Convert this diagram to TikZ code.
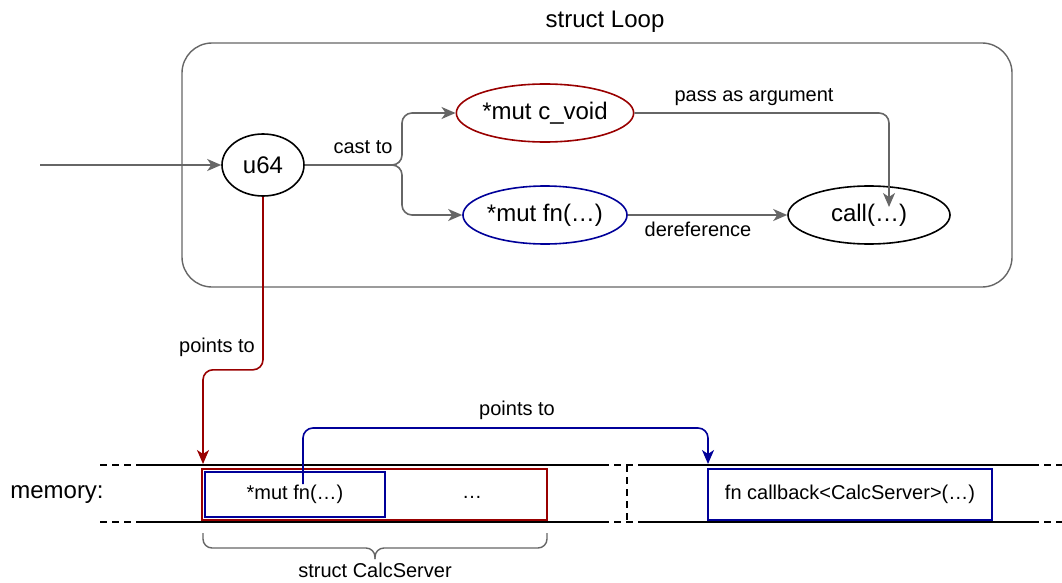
\documentclass[tikz,border=0pt]{standalone}
\usepackage{fontspec}
\setmainfont{Liberation Sans}
\usetikzlibrary{arrows.meta,shapes.geometric}
\definecolor{edgegray}{HTML}{666666}
\definecolor{ptrred}{HTML}{990000}
\definecolor{ptrblue}{HTML}{000099}
\begin{document}
\begin{tikzpicture}[x=1pt,y=-1pt,
  big/.style={font=\fontsize{24}{28}\selectfont},
  small/.style={font=\fontsize{20}{24}\selectfont},
  oval/.style={ellipse, draw, line width=1.6pt, inner sep=0pt, big},
  tip/.style={-{Stealth[length=14pt,width=12pt,inset=4pt]}},
  flow/.style={draw=edgegray, line width=1.6pt, rounded corners=10pt, tip},
  ptrflow/.style={draw=#1, line width=1.6pt, rounded corners=10pt, tip},
  membox/.style={draw=#1, line width=1.6pt, inner sep=0pt, small},
  memline/.style={line width=1.6pt},
  memdash/.style={line width=1.6pt, dash pattern=on 7pt off 5pt},
  lbl/.style={small, inner sep=1pt}
]
\useasboundingbox (0,0) rectangle (1062,583);

% the Loop container
\node[draw=edgegray, line width=1.4pt, rounded corners=30pt,
      minimum width=830pt, minimum height=244pt, inner sep=0pt] (loop) at (597,165) {};
\node[big] (looptitle) at (605,22) {struct Loop};

% values inside the loop
\node[oval, minimum width=82pt, minimum height=62pt] (u64) at (263,165) {u64};
\node[oval, draw=ptrred, minimum width=162pt, minimum height=58pt] (cvoid) at (545,113) {*mut c\_void};
\node[oval, draw=ptrblue, minimum width=162pt, minimum height=58pt] (fnptr) at (545,215) {*mut fn(…)};
\node[oval, minimum width=162pt, minimum height=58pt] (call) at (869,215) {call(…)};

\coordinate (src) at (40,165);
\coordinate (split) at (402,165);
\coordinate (argin) at (889,207);

\draw[flow] (src) -- (u64.west);
\draw[flow] (u64.east) -- (split) |- (cvoid.west);
\draw[flow] (u64.east) -- (split) |- (fnptr.west);
\draw[flow] (cvoid.east) -| (argin);
\draw[flow] (fnptr.east) -- (call.west);

\node[lbl] (castlbl) at (363,147) {cast to};
\node[lbl] (passlbl) at (754,97) {pass as argument};
\node[lbl] (dereflbl) at (698,229) {dereference};

% memory strip
\foreach \y in {465,522} {
  \draw[memdash] (100,\y) -- (140,\y);
  \draw[memline] (140,\y) -- (602,\y);
  \draw[memdash] (602,\y) -- (645,\y);
  \draw[memline] (645,\y) -- (1032,\y);
  \draw[memdash] (1032,\y) -- (1062,\y);
}
\draw[memdash] (627,465) -- (627,522);

\node[big] (memlbl) at (57,495) {memory:};

\node[membox=ptrred, minimum width=345pt, minimum height=51pt] (csbox) at (374.5,494.5) {};
\node[membox=ptrblue, minimum width=180pt, minimum height=45pt] (fnbox) at (295,494.5) {*mut fn(…)};
\node[small] (rest) at (472,497) {…};
\node[membox=ptrblue, minimum width=284pt, minimum height=51pt] (cbbox) at (850,494.5) {fn callback<CalcServer>(…)};

% pointers into memory
\coordinate (redtip) at (203,464);
\coordinate (fnsrc) at (303,484);
\coordinate (bluetip) at (708,464);

\draw[ptrflow=ptrred] (u64.south) -- ++(0,173) -| (redtip);
\draw[ptrflow=ptrblue] (fnsrc) -- ++(0,-56) -| (bluetip);

\node[lbl] (redlbl) at (217,347) {points to};
\node[lbl] (bluelbl) at (517,410) {points to};

% brace under the CalcServer struct
\draw[edgegray, line width=1.4pt, rounded corners=9pt] (203,533) |- (375,548) -- (375,559);
\draw[edgegray, line width=1.4pt, rounded corners=9pt] (547,533) |- (375,548) -- (375,559);
\node[small] (cslbl) at (375,570) {struct CalcServer};
\end{tikzpicture}
\end{document}
